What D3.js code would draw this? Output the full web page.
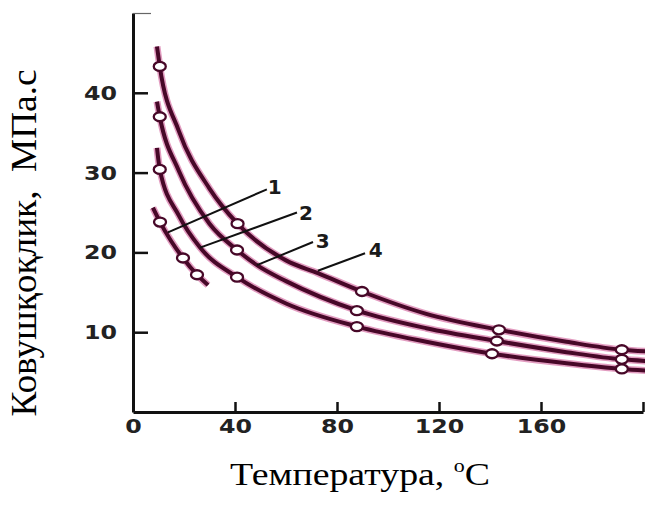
<!DOCTYPE html>
<html>
<head>
<meta charset="utf-8">
<script src="https://cdn.jsdelivr.net/npm/d3@7"></script>
<style>
  body { margin: 0; background: #fff; }
  svg { display: block; }
</style>
</head>
<body>
<svg id="main_svg" width="645" height="511"></svg>
<script>
// measured points (temperature, viscosity) for every curve
const curve1Line = [[7.8, 25.6], [10.6, 23.8], [15, 21.4], [19.6, 19.3], [25.1, 17.2], [29.4, 15.9]];
const curve2Line = [[9.4, 33.1], [10.5, 30.4], [18, 24.6], [26.3, 20.6], [40.8, 16.9], [60, 13.6], [88, 10.7], [115, 8.8], [140.8, 7.3], [170, 6.1], [191.7, 5.4], [201, 5.2]];
const curve3Line = [[9.4, 38.9], [10.5, 37.0], [18, 30.2], [30, 23.6], [40.8, 20.3], [48.6, 18.4], [60, 16.4], [88, 12.7], [115, 10.5], [142.7, 8.9], [170, 7.5], [191.7, 6.6], [201, 6.4]];
const curve4Line = [[9.4, 45.8], [10.5, 43.3], [18, 35.2], [30, 28.0], [41, 23.6], [60, 19.0], [72.5, 17.4], [89.8, 15.1], [115, 12.3], [143.5, 10.3], [170, 8.8], [191.7, 7.8], [201, 7.6]];

const curve1Marks = [[10.6, 23.8], [19.6, 19.3], [25.1, 17.2]];
const curve2Marks = [[10.5, 30.4], [40.8, 16.9], [87.8, 10.7], [140.8, 7.3], [191.7, 5.4]];
const curve3Marks = [[10.5, 37.0], [40.8, 20.3], [87.8, 12.7], [142.7, 8.9], [191.7, 6.6]];
const curve4Marks = [[10.5, 43.3], [41, 23.6], [89.8, 15.1], [143.5, 10.3], [191.7, 7.8]];

const curveNames = ["1", "2", "3", "4"];
// leader: start on curve, end near label, label anchor (data units)
const leaderFrom = [[13.7, 22.5], [26.3, 20.6], [48.6, 18.4], [72.5, 17.7]];
const leaderTo = [[52.5, 27.9], [64.3, 25.0], [70.6, 21.3], [91.0, 19.9]];
const labelAt = [[55.6, 28.2], [67.8, 25.0], [74.4, 21.5], [95.2, 20.3]];

const xTicks = [0, 40, 80, 120, 160, 200];
const yTicks = [10, 20, 30, 40, 50];

const xTitle = "Температура, ";
const yTitle = "Ковушқоқлик,  МПа.с";

const svg = d3.select("#main_svg");
const x = d3.scaleLinear().domain([0, 200]).range([133, 643]);
const y = d3.scaleLinear().domain([0, 50]).range([412, 13]);

const inkColor = "#470828";

// axes
const yAxis = svg.append("g").attr("transform", "translate(" + x(0) + ",0)")
  .call(d3.axisLeft(y).tickValues(yTicks).tickSizeInner(-15).tickSizeOuter(0).tickPadding(16)
    .tickFormat(d => d === 50 ? "" : d));
const xAxis = svg.append("g").attr("transform", "translate(0," + y(0) + ")")
  .call(d3.axisBottom(x).tickValues(xTicks).tickSizeInner(-10).tickSizeOuter(0).tickPadding(7)
    .tickFormat(d => d === 200 ? "" : d));

[yAxis, xAxis].forEach(g => {
  g.select(".domain").attr("stroke", "#111").attr("stroke-width", 3);
  g.selectAll(".tick line").attr("stroke", "#111").attr("stroke-width", 2.5);
  g.selectAll(".tick text").attr("fill", "#222").attr("font-family", "DejaVu Sans")
    .attr("font-weight", "bold").attr("font-size", 20)
    .attr("textLength", d => String(d).length * 16.5).attr("lengthAdjust", "spacingAndGlyphs");
});
yAxis.selectAll(".tick").filter(d => d === 50).select("line").attr("x2", 18).attr("stroke-width", 1.2).attr("stroke", "#666");
xAxis.selectAll(".tick").filter(d => d === 0).select("line").remove();

// curves
const line = d3.line().x(d => x(d[0])).y(d => y(d[1])).curve(d3.curveMonotoneX);
const lines = [curve1Line, curve2Line, curve3Line, curve4Line];
const marks = [curve1Marks, curve2Marks, curve3Marks, curve4Marks];

const curveG = svg.append("g");
curveG.selectAll(".halo").data(lines).enter().append("path").attr("class", "halo")
  .attr("d", line).attr("fill", "none").attr("stroke", "#cf5a96").attr("stroke-opacity", 0.6).attr("stroke-width", 7);
curveG.selectAll(".core").data(lines).enter().append("path").attr("class", "core")
  .attr("d", line).attr("fill", "none").attr("stroke", inkColor).attr("stroke-width", 4);

// leaders and labels
svg.append("g").selectAll("line").data(curveNames).enter().append("line")
  .attr("x1", (d, i) => x(leaderFrom[i][0])).attr("y1", (d, i) => y(leaderFrom[i][1]))
  .attr("x2", (d, i) => x(leaderTo[i][0])).attr("y2", (d, i) => y(leaderTo[i][1]))
  .attr("stroke", "#111").attr("stroke-width", 2);
svg.append("g").selectAll("text").data(curveNames).enter().append("text")
  .attr("x", (d, i) => x(labelAt[i][0])).attr("y", (d, i) => y(labelAt[i][1]))
  .attr("dy", "0.36em").attr("text-anchor", "middle")
  .attr("font-family", "DejaVu Sans").attr("font-weight", "bold").attr("font-size", 20).attr("fill", "#1a1a1a")
  .text(d => d);

// markers
marks.forEach(m => {
  curveG.append("g").selectAll("ellipse").data(m).enter().append("ellipse")
    .attr("cx", d => x(d[0])).attr("cy", d => y(d[1])).attr("rx", 6).attr("ry", 4.5)
    .attr("fill", "#fff").attr("stroke", inkColor).attr("stroke-width", 2.3);
});

// titles
const xt = svg.append("text").attr("x", 360).attr("y", 485).attr("text-anchor", "middle")
  .attr("font-family", "Liberation Serif").attr("font-size", 31).attr("fill", "#000")
  .attr("textLength", 260).attr("lengthAdjust", "spacingAndGlyphs")
  .style("white-space", "pre");
xt.append("tspan").text(xTitle);
xt.append("tspan").attr("font-size", 18).attr("dy", -13).text("o");
xt.append("tspan").attr("dy", 13).text("C");

svg.append("text").attr("transform", "translate(36,243) rotate(-90)").attr("text-anchor", "middle")
  .attr("font-family", "Liberation Serif").attr("font-size", 35).attr("fill", "#000")
  .attr("textLength", 347).attr("lengthAdjust", "spacingAndGlyphs")
  .style("white-space", "pre").text(yTitle);
</script>
</body>
</html>
